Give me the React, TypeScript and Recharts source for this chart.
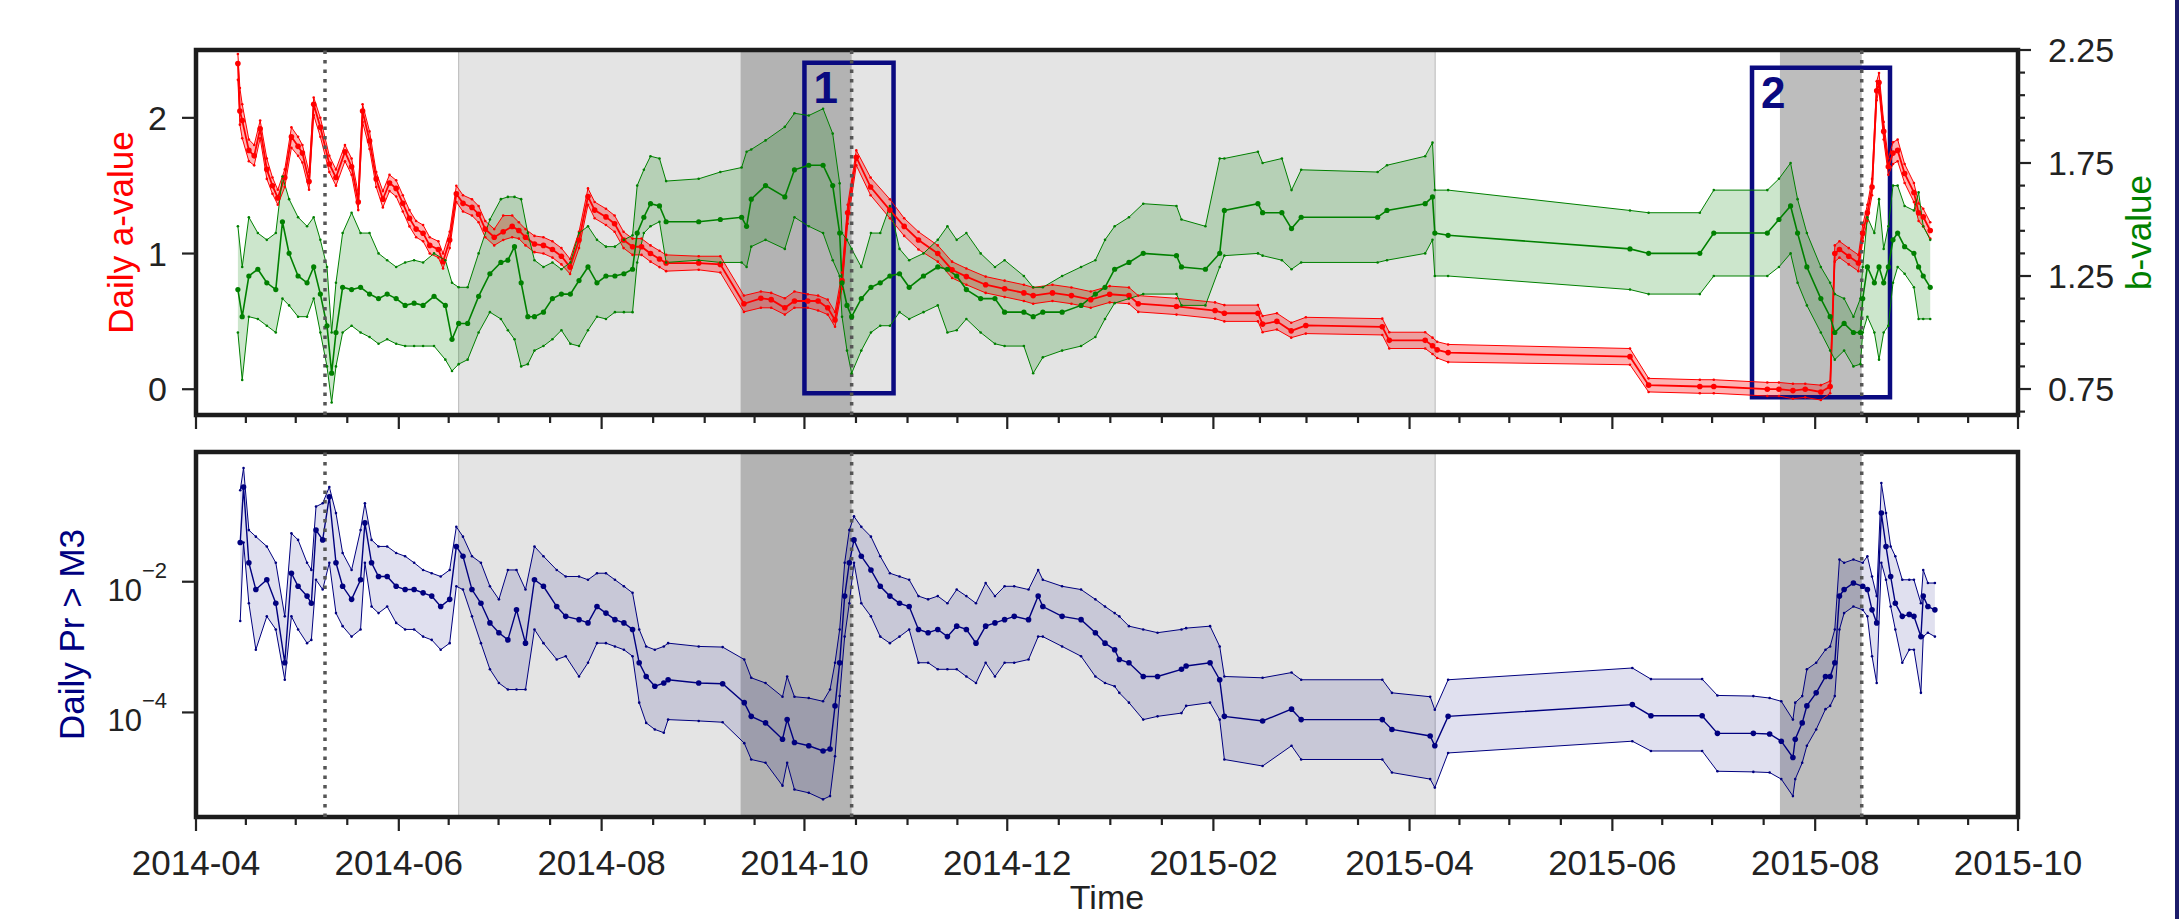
import React from 'react';
import { ComposedChart, Line, Area, XAxis, YAxis, ReferenceArea, ReferenceLine } from 'recharts';

const FONT = "'Liberation Sans', Arial, Helvetica, sans-serif";
const INK = '#222222';
const RED = '#ff0000';
const GREEN = '#008000';
const NAVY = '#00007f';

// ---- time axis (days since 2014-04-01) ----
const X_DOMAIN = [0, 548];
const MAJOR_DAYS = [0, 61, 122, 183, 244, 306, 365, 426, 487, 548];
const MAJOR_LABELS = ['2014-04', '2014-06', '2014-08', '2014-10', '2014-12', '2015-02', '2015-04', '2015-06', '2015-08', '2015-10'];
const MINOR_DAYS = [15, 30, 45.5, 76, 91, 106.5, 137.5, 153, 168, 198.5, 214, 229, 259.5, 275, 290.5, 320, 334, 349.5, 380, 395, 410.5, 441, 456, 471.5, 502.5, 518, 533];
const X_TICKS = [...MAJOR_DAYS, ...MINOR_DAYS].sort((a, b) => a - b);

// ---- shaded periods, event markers and highlighted windows ----
const QUIET_PERIOD = [79, 372.7];
const ALERT_PERIODS = [
  { from: 163.8, to: 197.2, fill: '#b3b3b3' },
  { from: 476.4, to: 501, fill: '#bdbdbd' },
];
const EVENT_DAYS = [38.8, 197.2, 501];
const WINDOWS = [
  { label: '1', from: 183, to: 209.8, low: -0.03, high: 2.406 },
  { label: '2', from: 468, to: 509.5, low: -0.059, high: 2.369 },
];

// ---- y axes ----
const A_DOMAIN = [-0.19, 2.5];
const A_TICKS = [0, 1, 2];
const B_DOMAIN = [0.635, 2.25];
const B_TICKS = [0.65, 0.75, 0.85, 0.95, 1.05, 1.15, 1.25, 1.35, 1.45, 1.55, 1.65, 1.75, 1.85, 1.95, 2.05, 2.15, 2.25];
const B_MAJOR = [0.75, 1.25, 1.75, 2.25];
const PR_DOMAIN = [10 ** -5.6, 10 ** -0.015];
const PR_TICKS = [1e-4, 1e-2];

// ---- daily a-value ----
const aDay = [
  12.6, 13.2, 13.9, 15.9, 17.5, 19.3, 21.3, 23, 24.6, 26.7,
  28.7, 30.7, 32, 34, 35.4, 37.4, 40.1, 42.1, 44.8, 46.8,
  48.8, 50.1, 52.2, 54.2, 56.2, 58.2, 60.2, 62.2, 64.2, 66.2,
  68.3, 70.3, 72.9, 74.3, 76.3, 78.3, 80.3, 83, 85, 87,
  89.7, 92.4, 95.1, 97.1, 99.1, 101.8, 104.5, 107.2, 109.9, 112.5,
  115.2, 117.9, 119.9, 123.3, 125.9, 128.6, 131.3, 134, 136.7, 139.4,
  141.4, 151.2, 157.7, 164.8, 169.9, 173, 177.1, 180, 184, 187.1,
  190, 192.2, 194.3, 196, 198.6, 202.9, 208.7, 213, 217.3, 223.1,
  227.4, 231.7, 237.5, 243.2, 249, 251.8, 257.6, 263.3, 269.1, 274.8,
  280.6, 283.4, 294.9, 306.5, 309.3, 319.4, 320.8, 325.1, 329.4, 333.8,
  356.8, 358.9, 369.7, 371.9, 373.3, 376.6, 431.3, 436.9, 452.3, 456.5,
  472.6, 476.1, 480.3, 484, 488.7, 491.5, 492.9, 494.3, 497.1, 500,
  501.3, 502.7, 504.1, 505.5, 506.2, 507.6, 509, 510.4, 511.8, 513.9,
  516.7, 518.1, 519.5, 521.6,
];
const aMid = [
  2.4, 2.05, 1.98, 1.76, 1.72, 1.92, 1.62, 1.5, 1.41, 1.56,
  1.86, 1.79, 1.74, 1.53, 2.1, 1.93, 1.66, 1.56, 1.75, 1.64,
  1.38, 2.05, 1.83, 1.55, 1.4, 1.52, 1.48, 1.37, 1.26, 1.18,
  1.15, 1.06, 1.03, 0.94, 1.1, 1.44, 1.37, 1.34, 1.29, 1.18,
  1.12, 1.16, 1.2, 1.17, 1.12, 1.07, 1.06, 1.03, 0.98, 0.9,
  1.1, 1.42, 1.32, 1.27, 1.22, 1.1, 1.05, 1.05, 1.0, 0.96,
  0.93, 0.93, 0.92, 0.63, 0.67, 0.66, 0.6, 0.65, 0.65, 0.65,
  0.6, 0.51, 0.8, 1.3, 1.71, 1.49, 1.32, 1.2, 1.1, 1.0,
  0.88, 0.83, 0.77, 0.74, 0.71, 0.69, 0.71, 0.69, 0.66, 0.7,
  0.69, 0.63, 0.61, 0.58, 0.56, 0.56, 0.48, 0.5, 0.43, 0.47,
  0.46, 0.36, 0.36, 0.32, 0.29, 0.27, 0.24, 0.03, 0.02, 0.02,
  0.0, 0.0, -0.01, 0.0, -0.02, 0.02, 1.0, 1.03, 0.98, 0.93,
  1.15, 1.3, 1.49, 2.2, 2.26, 1.9, 1.64, 1.74, 1.76, 1.59,
  1.45, 1.3, 1.27, 1.17,
];
const aLo = [
  2.28, 1.95, 1.85, 1.68, 1.65, 1.85, 1.55, 1.44, 1.36, 1.49,
  1.78, 1.72, 1.67, 1.47, 2.02, 1.86, 1.6, 1.5, 1.68, 1.58,
  1.32, 1.97, 1.77, 1.49, 1.34, 1.46, 1.42, 1.31, 1.2, 1.12,
  1.09, 1.0, 0.97, 0.89, 1.04, 1.38, 1.31, 1.28, 1.23, 1.12,
  1.06, 1.1, 1.12, 1.11, 1.06, 1.01, 1.0, 0.97, 0.92, 0.85,
  1.04, 1.36, 1.26, 1.21, 1.16, 1.04, 0.99, 0.99, 0.94, 0.9,
  0.87, 0.88, 0.86, 0.57, 0.6, 0.6, 0.55, 0.6, 0.6, 0.58,
  0.55, 0.46, 0.74, 1.22, 1.65, 1.43, 1.26, 1.13, 1.03, 0.94,
  0.82, 0.77, 0.71, 0.68, 0.65, 0.63, 0.65, 0.63, 0.6, 0.64,
  0.63, 0.57, 0.55, 0.52, 0.5, 0.5, 0.42, 0.44, 0.38, 0.41,
  0.4, 0.3, 0.3, 0.26, 0.23, 0.2, 0.18, -0.02, -0.03, -0.03,
  -0.05, -0.05, -0.07, -0.06, -0.08, -0.03, 0.94, 0.97, 0.92, 0.87,
  1.09, 1.24, 1.43, 2.13, 2.2, 1.84, 1.58, 1.66, 1.68, 1.52,
  1.38, 1.24, 1.2, 1.11,
];
const aHi = [
  2.47, 2.22, 2.1, 1.84, 1.8, 1.98, 1.7, 1.56, 1.47, 1.62,
  1.93, 1.86, 1.8, 1.6, 2.15, 2.0, 1.72, 1.62, 1.8, 1.7,
  1.44, 2.1, 1.9, 1.6, 1.46, 1.58, 1.54, 1.43, 1.32, 1.24,
  1.21, 1.12, 1.09, 1.0, 1.16, 1.5, 1.43, 1.4, 1.35, 1.24,
  1.18, 1.28, 1.28, 1.23, 1.18, 1.13, 1.12, 1.09, 1.04, 0.96,
  1.16, 1.48, 1.38, 1.33, 1.28, 1.16, 1.11, 1.11, 1.06, 1.02,
  0.99, 0.98, 0.98, 0.69, 0.72, 0.71, 0.67, 0.72, 0.7, 0.69,
  0.66, 0.57, 0.86, 1.36, 1.76, 1.56, 1.4, 1.26, 1.16, 1.06,
  0.94, 0.89, 0.83, 0.8, 0.77, 0.75, 0.77, 0.75, 0.72, 0.76,
  0.75, 0.69, 0.67, 0.64, 0.62, 0.62, 0.54, 0.56, 0.49, 0.53,
  0.52, 0.42, 0.42, 0.38, 0.35, 0.33, 0.3, 0.08, 0.07, 0.07,
  0.05, 0.05, 0.04, 0.04, 0.03, 0.06, 1.06, 1.09, 1.04, 0.99,
  1.21, 1.36, 1.55, 2.27, 2.33, 1.97, 1.7, 1.82, 1.84, 1.66,
  1.52, 1.37, 1.33, 1.23,
];

// ---- b-value ----
const bDay = [
  12.6, 13.9, 15.9, 18.6, 21.3, 24, 26, 28, 30.7, 33.4,
  35.4, 37.4, 39.4, 40.8, 42.1, 44.1, 46.8, 49.5, 52.2, 54.9,
  57.5, 60.2, 62.9, 65.6, 68.3, 71.6, 75, 77, 79, 81.7,
  85, 88.4, 91.7, 93.8, 95.8, 97.8, 99.8, 101.8, 104.5, 107.2,
  109.9, 112.6, 115.2, 117.9, 120.6, 123.3, 126, 128.7, 131.3, 132.7,
  134.7, 136.7, 139.4, 141.4, 151.2, 157.7, 164.1, 165.6, 167, 171.3,
  177.1, 180, 184.3, 188.6, 191.5, 193.6, 194.3, 195.8, 197.2, 200.1,
  203, 205.8, 208.7, 211.6, 214.5, 218.8, 223.1, 226, 228.8, 231.7,
  236, 240.3, 243.2, 249, 251.8, 254.7, 260.5, 266.2, 270.5, 273.4,
  276.3, 280.6, 284.9, 294.9, 296.4, 303.6, 307.9, 309.3, 319.4, 320.8,
  326.6, 329.5, 332.4, 355.4, 358.2, 369.7, 371.9, 372.6, 376.6, 431.3,
  436.9, 452.3, 456.5, 472.6, 476.1, 479.6, 481.7, 484.5, 488.7, 491.5,
  492.9, 495.7, 498.5, 500.6, 501.3, 502.7, 504.8, 506.2, 507.6, 509,
  510.4, 511.8, 513.9, 516.7, 518.1, 519.5, 521.6,
];
const bMid = [
  1.19, 1.07, 1.25, 1.28, 1.22, 1.19, 1.49, 1.35, 1.25, 1.22,
  1.29, 1.17, 1.03, 0.82, 1.0, 1.2, 1.19, 1.2, 1.17, 1.15,
  1.17, 1.15, 1.12, 1.13, 1.12, 1.16, 1.12, 0.97, 1.04, 1.04,
  1.16, 1.26, 1.31, 1.32, 1.38, 1.22, 1.07, 1.07, 1.09, 1.15,
  1.17, 1.17, 1.23, 1.29, 1.22, 1.25, 1.25, 1.26, 1.28, 1.44,
  1.51, 1.57, 1.56, 1.49, 1.49, 1.5, 1.51, 1.47, 1.59, 1.65,
  1.6, 1.72, 1.74, 1.74, 1.65, 1.44, 1.22, 1.12, 1.07, 1.15,
  1.2, 1.22, 1.25, 1.26, 1.2, 1.25, 1.29, 1.28, 1.25, 1.19,
  1.15, 1.15, 1.09, 1.09, 1.07, 1.09, 1.09, 1.12, 1.17, 1.2,
  1.28, 1.31, 1.35, 1.34, 1.29, 1.28, 1.35, 1.54, 1.57, 1.53,
  1.53, 1.46, 1.51, 1.51, 1.54, 1.57, 1.6, 1.44, 1.43, 1.37,
  1.35, 1.35, 1.44, 1.44, 1.5, 1.56, 1.44, 1.29, 1.15, 1.07,
  1.0, 1.04, 1.0, 1.0, 1.15, 1.29, 1.22, 1.29, 1.22, 1.29,
  1.41, 1.44, 1.38, 1.35, 1.29, 1.25, 1.2,
];
const bLo = [
  1.0, 0.79, 1.07, 1.06, 1.03, 1.0, 1.15, 1.12, 1.07, 1.07,
  1.15, 1.0, 0.85, 0.69, 0.85, 1.0, 1.03, 1.0, 0.98, 0.95,
  0.97, 0.95, 0.94, 0.94, 0.94, 0.94, 0.88, 0.83, 0.86, 0.88,
  1.0, 1.09, 1.06, 1.01, 0.97, 0.85, 0.86, 0.92, 0.94, 0.97,
  1.01, 0.95, 0.94, 1.01, 1.07, 1.06, 1.09, 1.09, 1.09, 1.31,
  1.44, 1.47, 1.49, 1.31, 1.32, 1.31, 1.31, 1.29, 1.38, 1.41,
  1.37, 1.51, 1.47, 1.44, 1.32, 1.25, 1.07, 0.92, 0.82, 0.92,
  1.0, 1.03, 1.03, 1.09, 1.06, 1.09, 1.12, 1.0, 1.01, 1.06,
  1.0, 0.95, 0.94, 0.94, 0.82, 0.89, 0.92, 0.94, 0.98, 1.06,
  1.13, 1.15, 1.17, 1.17, 1.12, 1.12, 1.29, 1.34, 1.35, 1.34,
  1.32, 1.28, 1.31, 1.31, 1.32, 1.35, 1.41, 1.25, 1.25, 1.19,
  1.17, 1.17, 1.25, 1.25, 1.29, 1.35, 1.22, 1.12, 1.0, 0.92,
  0.88, 0.92, 0.85, 0.86, 1.0, 1.07, 1.0, 0.88, 1.0, 1.03,
  1.22, 1.29, 1.26, 1.2, 1.06, 1.06, 1.06,
];
const bHi = [
  1.47, 1.29, 1.51, 1.44, 1.41, 1.44, 1.69, 1.59, 1.51, 1.47,
  1.51, 1.41, 1.29, 1.0, 1.22, 1.44, 1.53, 1.44, 1.44, 1.35,
  1.32, 1.29, 1.31, 1.32, 1.31, 1.35, 1.32, 1.22, 1.2, 1.2,
  1.35, 1.5, 1.59, 1.6, 1.6, 1.59, 1.44, 1.32, 1.29, 1.31,
  1.28, 1.31, 1.44, 1.47, 1.41, 1.38, 1.38, 1.41, 1.43, 1.65,
  1.72, 1.78, 1.77, 1.67, 1.68, 1.71, 1.73, 1.8, 1.81, 1.85,
  1.91, 1.97, 1.96, 1.99, 1.88, 1.66, 1.44, 1.41, 1.37, 1.29,
  1.44, 1.44, 1.56, 1.37, 1.32, 1.35, 1.41, 1.47, 1.41, 1.44,
  1.35, 1.29, 1.32, 1.25, 1.2, 1.2, 1.25, 1.29, 1.32, 1.41,
  1.47, 1.51, 1.57, 1.56, 1.5, 1.47, 1.77, 1.77, 1.8, 1.75,
  1.77, 1.63, 1.72, 1.71, 1.74, 1.78, 1.84, 1.63, 1.63, 1.54,
  1.53, 1.53, 1.63, 1.63, 1.68, 1.75, 1.59, 1.44, 1.29, 1.22,
  1.17, 1.15, 1.07, 1.15, 1.29, 1.51, 1.44, 1.59, 1.37, 1.47,
  1.65, 1.65, 1.56, 1.54, 1.62, 1.47, 1.41,
];

// ---- daily probability of an M>3 event, stored as log10 exponents ----
const prDay = [
  13.3, 14.3, 15.9, 18, 21.3, 24, 26.7, 28.7, 30.7, 33.4,
  34.7, 36.1, 38.1, 40.1, 42.1, 44.1, 46.8, 49.5, 50.8, 52.8,
  54.9, 57.5, 60.2, 62.9, 65.6, 68.3, 70.9, 73.6, 76.3, 78.3,
  80.3, 83, 85.7, 88.4, 91.1, 93.8, 96.4, 99.1, 101.8, 104.5,
  108.5, 111.2, 115.2, 117.9, 120.6, 123.3, 126, 128.7, 131.3, 133.3,
  135.4, 138, 140.7, 142, 151.2, 158.4, 164.9, 167, 171.3, 176.4,
  177.8, 180, 184.3, 188.6, 190.7, 192.2, 193.6, 195.1, 196.5, 197.9,
  200.1, 203, 205.8, 208.7, 211.6, 214.5, 217.3, 220.2, 223.1, 226,
  228.8, 231.7, 234.6, 237.5, 240.3, 243.2, 246.1, 250.4, 253.3, 254.7,
  260.5, 266.2, 270.5, 273.4, 276.3, 277.7, 280.6, 284.9, 289.2, 296.4,
  297.8, 305, 307.9, 309.3, 320.8, 329.5, 332.4, 356.8, 359.7, 371.2,
  372.6, 376.6, 432, 437.6, 453, 457.6, 468.4, 473.3, 476.8, 480.3,
  481, 483.1, 484.5, 487.3, 490.1, 491.5, 492.9, 494.3, 495.7, 498.5,
  501.3, 502.7, 504.1, 505.5, 506.9, 508.3, 509.7, 511.1, 513.2, 515.3,
  516.7, 518.8, 519.5, 520.9, 523,
];
const prMidExp = [
  -1.4, -0.55, -1.71, -2.12, -1.97, -2.33, -3.24, -1.87, -2.07, -2.22,
  -2.33, -1.21, -1.36, -0.7, -1.71, -2.07, -2.27, -1.97, -1.1, -1.71,
  -1.92, -1.92, -2.07, -2.12, -2.12, -2.17, -2.22, -2.38, -2.27, -1.46,
  -1.61, -2.12, -2.33, -2.63, -2.78, -2.89, -2.43, -2.94, -1.97, -2.07,
  -2.38, -2.53, -2.58, -2.63, -2.38, -2.48, -2.58, -2.63, -2.73, -3.24,
  -3.45, -3.6, -3.55, -3.5, -3.55, -3.56, -3.85, -4.06, -4.16, -4.41,
  -4.11, -4.46, -4.51, -4.59, -4.56, -3.9, -3.24, -2.22, -1.71, -1.36,
  -1.61, -1.82, -2.07, -2.22, -2.33, -2.38, -2.73, -2.78, -2.73, -2.84,
  -2.68, -2.73, -2.94, -2.68, -2.63, -2.58, -2.53, -2.58, -2.22, -2.38,
  -2.53, -2.58, -2.78, -2.94, -3.04, -3.19, -3.24, -3.45, -3.45, -3.34,
  -3.29, -3.24, -3.5, -4.06, -4.13, -3.95, -4.11, -4.11, -4.26, -4.36,
  -4.51, -4.06, -3.88, -4.05, -4.05, -4.32, -4.32, -4.33, -4.44, -4.69,
  -4.41, -4.16, -3.9, -3.7, -3.45, -3.45, -3.24, -2.22, -2.12, -2.02,
  -2.07, -2.12, -2.43, -2.63, -0.95, -1.46, -1.92, -2.33, -2.53, -2.5,
  -2.53, -2.84, -2.22, -2.38, -2.43,
];
const prLoExp = [
  -2.6, -1.4, -2.33, -3.04, -2.53, -2.73, -3.5, -2.53, -2.73, -2.94,
  -2.89, -1.97, -2.12, -1.71, -2.48, -2.68, -2.84, -2.73, -1.71, -2.38,
  -2.48, -2.38, -2.63, -2.73, -2.73, -2.84, -2.89, -3.04, -2.94, -2.07,
  -2.12, -2.53, -2.94, -3.34, -3.55, -3.65, -3.65, -3.65, -2.73, -2.94,
  -3.19, -3.14, -3.45, -3.24, -2.94, -2.94, -2.99, -3.04, -3.14, -3.85,
  -4.16, -4.26, -4.31, -4.11, -4.13, -4.15, -4.47, -4.72, -4.77, -5.12,
  -4.77, -5.18, -5.23, -5.33, -5.28, -4.67, -3.75, -2.84, -2.33, -1.71,
  -2.33, -2.53, -2.84, -2.94, -2.84, -2.73, -3.24, -3.24, -3.34, -3.34,
  -3.34, -3.45, -3.55, -3.24, -3.45, -3.24, -3.24, -3.19, -2.84, -2.84,
  -2.99, -3.14, -3.45, -3.55, -3.6, -3.7, -3.85, -4.11, -4.06, -4.01,
  -3.9, -3.85, -4.11, -4.72, -4.82, -4.51, -4.72, -4.72, -4.92, -5.02,
  -5.15, -4.62, -4.44, -4.59, -4.59, -4.9, -4.91, -4.92, -5.02, -5.28,
  -5.02, -4.77, -4.51, -4.26, -3.95, -3.9, -3.75, -2.73, -2.48, -2.38,
  -2.43, -2.53, -3.14, -3.55, -1.71, -1.97, -2.38, -2.73, -3.24, -3.04,
  -3.04, -3.7, -2.84, -2.78, -2.84,
];
const prHiExp = [
  -0.6, -0.26, -1.21, -1.31, -1.46, -1.71, -2.53, -1.26, -1.36, -1.71,
  -1.82, -0.85, -0.8, -0.55, -0.95, -1.56, -1.82, -1.21, -0.8, -1.36,
  -1.46, -1.46, -1.56, -1.61, -1.71, -1.82, -1.87, -1.92, -1.82, -1.16,
  -1.31, -1.61, -1.71, -2.07, -2.27, -1.82, -1.82, -2.12, -1.46, -1.61,
  -1.82, -1.92, -1.92, -1.97, -1.87, -1.87, -1.97, -2.07, -2.17, -2.73,
  -2.99, -3.04, -2.99, -2.94, -2.99, -3.0, -3.19, -3.47, -3.55, -3.76,
  -3.45, -3.76, -3.78, -3.83, -3.65, -3.24, -2.73, -1.71, -1.21, -1.0,
  -1.16, -1.31, -1.61, -1.87, -1.92, -1.97, -2.22, -2.27, -2.22, -2.33,
  -2.12, -2.22, -2.33, -2.02, -2.22, -2.07, -2.07, -2.12, -1.82, -1.97,
  -2.07, -2.12, -2.27, -2.38, -2.48, -2.53, -2.68, -2.73, -2.78, -2.73,
  -2.71, -2.68, -2.99, -3.45, -3.47, -3.39, -3.5, -3.5, -3.7, -3.76,
  -3.96, -3.5, -3.32, -3.49, -3.49, -3.74, -3.75, -3.78, -3.83, -4.11,
  -3.85, -3.75, -3.34, -3.24, -3.04, -2.99, -2.73, -1.66, -1.71, -1.66,
  -1.71, -1.61, -1.92, -2.22, -0.49, -0.95, -1.46, -1.61, -1.97, -1.97,
  -1.97, -2.33, -1.82, -2.02, -2.02,
];

type Row = { day: number; mid: number; lo: number; hi: number; band: [number, number] };

const buildRows = (day: number[], mid: number[], lo: number[], hi: number[], conv: (v: number) => number = (v) => v): Row[] =>
  day.map((d, i) => ({ day: d, mid: conv(mid[i]), lo: conv(lo[i]), hi: conv(hi[i]), band: [conv(lo[i]), conv(hi[i])] }));

const aRows = buildRows(aDay, aMid, aLo, aHi);
const bRows = buildRows(bDay, bMid, bLo, bHi);
const prRows = buildRows(prDay, prMidExp, prLoExp, prHiExp, (e) => 10 ** e);

// ---- tick renderers ----
const TimeTick = (props: any) => {
  const { x, y, payload, labelled } = props;
  const idx = MAJOR_DAYS.indexOf(payload.value);
  const major = idx >= 0;
  return (
    <g>
      <line x1={x} x2={x} y1={y} y2={y + (major ? 14 : 8)} stroke={INK} strokeWidth={2.2} />
      {major && labelled ? (
        <text x={x} y={y + 58} textAnchor="middle" fontSize={35} fontFamily={FONT} fill={INK}>
          {MAJOR_LABELS[idx]}
        </text>
      ) : null}
    </g>
  );
};

const ATick = (props: any) => {
  const { x, y, payload } = props;
  return (
    <g>
      <line x1={x - 14} x2={x} y1={y} y2={y} stroke={INK} strokeWidth={2.2} />
      <text x={x - 29} y={y} dy="0.36em" textAnchor="end" fontSize={34} fontFamily={FONT} fill={INK}>
        {payload.value}
      </text>
    </g>
  );
};

const BTick = (props: any) => {
  const { x, y, payload } = props;
  const major = B_MAJOR.some((m) => Math.abs(m - payload.value) < 1e-6);
  return (
    <g>
      <line x1={x} x2={x + (major ? 13 : 7)} y1={y} y2={y} stroke={INK} strokeWidth={2.2} />
      {major ? (
        <text x={x + 30} y={y} dy="0.36em" textAnchor="start" fontSize={34} fontFamily={FONT} fill={INK}>
          {Number(payload.value).toFixed(2)}
        </text>
      ) : null}
    </g>
  );
};

const PrTick = (props: any) => {
  const { x, y, payload } = props;
  const e = Math.round(Math.log10(payload.value));
  return (
    <g>
      <line x1={x - 14} x2={x} y1={y} y2={y} stroke={INK} strokeWidth={2.2} />
      <text x={x - 29} y={y + 19} textAnchor="end" fontSize={31} fontFamily={FONT} fill={INK}>
        10
        <tspan dy={-23} fontSize={22}>{'\u2212' + Math.abs(e)}</tspan>
      </text>
    </g>
  );
};

const axisTitle = (text: string, color: string, dx: number) => (props: any) => {
  const vb = props.viewBox || { x: 0, y: 0, width: 0, height: 0 };
  const x = vb.x + dx;
  const y = vb.y + vb.height / 2;
  return (
    <text x={x} y={y} transform={`rotate(-90 ${x} ${y})`} textAnchor="middle" dominantBaseline="central" fontSize={35} fontFamily={FONT} fill={color}>
      {text}
    </text>
  );
};

const timeTitle = (props: any) => {
  const vb = props.viewBox || { x: 0, y: 0, width: 0, height: 0 };
  return (
    <text x={vb.x + vb.width / 2} y={vb.y + 92} textAnchor="middle" fontSize={34} fontFamily={FONT} fill={INK}>
      Time
    </text>
  );
};

const bandLines = (rows: Row[], color: string, axisId: string, fillOpacity: number, midWidth: number, midDot: number) => [
  <Area key="band" yAxisId={axisId} data={rows} dataKey="band" type="linear" stroke="none" fill={color} fillOpacity={fillOpacity} dot={false} activeDot={false} isAnimationActive={false} />,
  <Line key="lo" yAxisId={axisId} data={rows} dataKey="lo" type="linear" stroke={color} strokeWidth={1} dot={{ r: 1.3, fill: color, stroke: 'none' }} activeDot={false} isAnimationActive={false} />,
  <Line key="hi" yAxisId={axisId} data={rows} dataKey="hi" type="linear" stroke={color} strokeWidth={1} dot={{ r: 1.3, fill: color, stroke: 'none' }} activeDot={false} isAnimationActive={false} />,
  <Line key="mid" yAxisId={axisId} data={rows} dataKey="mid" type="linear" stroke={color} strokeWidth={midWidth} dot={{ r: midDot, fill: color, stroke: 'none' }} activeDot={false} isAnimationActive={false} />,
];

const periodShading = (axisId: string) => [
  <ReferenceArea key="quiet" yAxisId={axisId} x1={QUIET_PERIOD[0]} x2={QUIET_PERIOD[1]} fill="#e4e4e4" fillOpacity={1} stroke="#b8b8b8" strokeWidth={1} ifOverflow="visible" />,
  ...ALERT_PERIODS.map((p, i) => (
    <ReferenceArea key={`alert${i}`} yAxisId={axisId} x1={p.from} x2={p.to} fill={p.fill} fillOpacity={1} stroke="none" ifOverflow="visible" />
  )),
];

const eventLines = (axisId: string) =>
  EVENT_DAYS.map((d) => (
    <ReferenceLine key={`ev${d}`} yAxisId={axisId} x={d} stroke="#555555" strokeWidth={3.5} strokeDasharray="3.5 6" ifOverflow="visible" />
  ));

export default function App() {
  return (
    <div style={{ position: 'absolute', left: 0, top: 0, width: 2181, height: 919, background: '#ffffff', overflow: 'hidden' }}>
      <div style={{ position: 'absolute', left: 0, top: 0 }}>
        <ComposedChart width={2181} height={445} margin={{ top: 50, right: 0, bottom: 0, left: 0 }}>
          <XAxis dataKey="day" type="number" domain={X_DOMAIN} ticks={X_TICKS} interval={0} allowDataOverflow tickSize={0} tickMargin={0} axisLine={false} tickLine={false} height={30} tick={(p: any) => <TimeTick {...p} labelled={false} />} />
          <YAxis yAxisId="a" orientation="left" type="number" width={196} domain={A_DOMAIN} ticks={A_TICKS} interval={0} allowDataOverflow tickSize={0} tickMargin={0} axisLine={false} tickLine={false} tick={(p: any) => <ATick {...p} />} label={axisTitle('Daily a-value', RED, 120)} />
          <YAxis yAxisId="b" orientation="right" type="number" width={163} domain={B_DOMAIN} ticks={B_TICKS} interval={0} allowDataOverflow tickSize={0} tickMargin={0} axisLine={false} tickLine={false} tick={(p: any) => <BTick {...p} />} label={axisTitle('b-value', GREEN, 120)} />
          {periodShading('a')}
          {bandLines(aRows, RED, 'a', 0.3, 1.8, 2.8)}
          {bandLines(bRows, GREEN, 'b', 0.2, 1.6, 2.6)}
          {eventLines('a')}
          {WINDOWS.map((w) => (
            <ReferenceArea key={`win${w.label}`} yAxisId="a" x1={w.from} x2={w.to} y1={w.low} y2={w.high} fill="none" stroke="#0a0a80" strokeWidth={4.5} ifOverflow="visible" label={{ value: w.label, position: 'insideTopLeft', offset: 9, fill: '#0a0a80', fontSize: 44, fontWeight: 700, fontFamily: FONT }} />
          ))}
          <ReferenceArea yAxisId="a" x1={X_DOMAIN[0]} x2={X_DOMAIN[1]} y1={A_DOMAIN[0]} y2={A_DOMAIN[1]} fill="none" stroke="#1c1c1c" strokeWidth={4.5} ifOverflow="visible" />
        </ComposedChart>
      </div>
      <div style={{ position: 'absolute', left: 0, top: 430 }}>
        <ComposedChart width={2181} height={489} margin={{ top: 22, right: 163, bottom: 0, left: 0 }}>
          <XAxis dataKey="day" type="number" domain={X_DOMAIN} ticks={X_TICKS} interval={0} allowDataOverflow tickSize={0} tickMargin={0} axisLine={false} tickLine={false} height={102} tick={(p: any) => <TimeTick {...p} labelled />} label={timeTitle} />
          <YAxis yAxisId="p" orientation="left" type="number" scale="log" width={196} domain={PR_DOMAIN} ticks={PR_TICKS} interval={0} allowDataOverflow tickSize={0} tickMargin={0} axisLine={false} tickLine={false} tick={(p: any) => <PrTick {...p} />} label={axisTitle('Daily Pr > M3', NAVY, 71)} />
          {periodShading('p')}
          {bandLines(prRows, NAVY, 'p', 0.12, 1.4, 2.8)}
          {eventLines('p')}
          <ReferenceArea yAxisId="p" x1={X_DOMAIN[0]} x2={X_DOMAIN[1]} y1={PR_DOMAIN[0]} y2={PR_DOMAIN[1]} fill="none" stroke="#1c1c1c" strokeWidth={4.5} ifOverflow="visible" />
        </ComposedChart>
      </div>
      <div style={{ position: 'absolute', left: 2175, top: 0, width: 4, height: 919, background: '#1d1d6b' }} />
    </div>
  );
}
